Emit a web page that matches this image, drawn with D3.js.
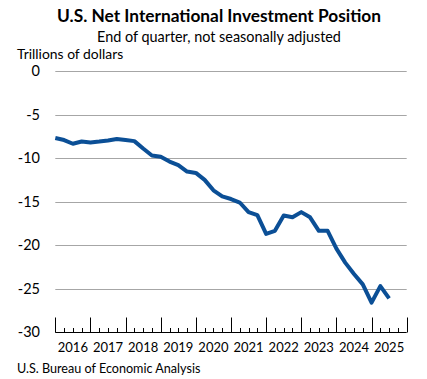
<!DOCTYPE html>
<html><head><meta charset="utf-8">
<script src="https://d3js.org/d3.v7.min.js"></script>
<style>body{margin:0;background:#fff}svg{display:block}</style>
</head><body>
<script>
const quarters = ["2015Q4","2016Q1","2016Q2","2016Q3","2016Q4","2017Q1","2017Q2","2017Q3","2017Q4","2018Q1","2018Q2","2018Q3","2018Q4","2019Q1","2019Q2","2019Q3","2019Q4","2020Q1","2020Q2","2020Q3","2020Q4","2021Q1","2021Q2","2021Q3","2021Q4","2022Q1","2022Q2","2022Q3","2022Q4","2023Q1","2023Q2","2023Q3","2023Q4","2024Q1","2024Q2","2024Q3","2024Q4","2025Q1","2025Q2"];
const niip = [-7.7,-7.93,-8.35,-8.1,-8.2,-8.1,-7.97,-7.8,-7.93,-8.05,-8.9,-9.7,-9.85,-10.4,-10.8,-11.55,-11.7,-12.5,-13.7,-14.4,-14.7,-15.1,-16.2,-16.55,-18.7,-18.35,-16.6,-16.8,-16.2,-16.8,-18.35,-18.35,-20.4,-22.0,-23.3,-24.5,-26.6,-24.7,-26.1];
const yearLabels = ["2016","2017","2018","2019","2020","2021","2022","2023","2024","2025"];
const yTicks = [0,-5,-10,-15,-20,-25,-30];

const W = 427, H = 379;
const svg = d3.select("body").append("svg").attr("width", W).attr("height", H);
const font = "Lato, 'Liberation Sans', Arial, sans-serif";

const x = d3.scaleLinear().domain([0, yearLabels.length * 4]).range([55.3, 406.7]);
const y = d3.scaleLinear().domain([-30, 0]).range([332.3, 71]);

// titles
svg.append("text").attr("x", 219).attr("y", 22).attr("text-anchor", "middle")
  .attr("font-family", font).attr("font-weight", "bold").attr("font-size", 17.3).attr("fill", "#000")
  .text("U.S. Net International Investment Position");
svg.append("text").attr("x", 219).attr("y", 42).attr("text-anchor", "middle")
  .attr("font-family", font).attr("font-size", 14.4).attr("fill", "#000")
  .text("End of quarter, not seasonally adjusted");
svg.append("text").attr("x", 17).attr("y", 59)
  .attr("font-family", font).attr("font-size", 13.9).attr("fill", "#000")
  .text("Trillions of dollars");

// gridlines
svg.append("g").selectAll("line").data(yTicks.filter(d => d !== -30)).join("line")
  .attr("x1", x(0)).attr("x2", x(40)).attr("y1", d => Math.round(y(d)) + 0.5).attr("y2", d => Math.round(y(d)) + 0.5)
  .attr("stroke", "#a6a6a6").attr("stroke-width", 1);

// y axis labels
svg.append("g").selectAll("text").data(yTicks).join("text")
  .attr("x", 40).attr("y", d => y(d)).attr("dy", "0.35em").attr("text-anchor", "end")
  .attr("font-family", font).attr("font-size", 14.5).attr("fill", "#000")
  .text(d => d);

// x axis
const axisY = Math.round(y(-30)) + 0.5;
svg.append("line").attr("x1", x(0)).attr("x2", x(40)).attr("y1", axisY).attr("y2", axisY)
  .attr("stroke", "#000").attr("stroke-width", 1);
const ticks = d3.range(0, 41);
svg.append("g").selectAll("line").data(ticks).join("line")
  .attr("x1", d => Math.round(x(d)) + 0.5).attr("x2", d => Math.round(x(d)) + 0.5)
  .attr("y1", axisY).attr("y2", d => d % 4 === 0 ? axisY - 15 : axisY - 4.5)
  .attr("stroke", "#000").attr("stroke-width", 1);
svg.append("g").selectAll("text").data(yearLabels).join("text")
  .attr("x", (d, i) => x(i * 4 + 2)).attr("y", 352).attr("text-anchor", "middle")
  .attr("font-family", font).attr("font-size", 13).attr("fill", "#000")
  .text(d => d);

// line
const line = d3.line().x((d, i) => x(i)).y(d => y(d));
svg.append("path").datum(niip).attr("d", line).attr("fill", "none")
  .attr("stroke", "#0b4f96").attr("stroke-width", 4).attr("stroke-linejoin", "round");

// footer
svg.append("text").attr("x", 17).attr("y", 373)
  .attr("font-family", font).attr("font-size", 12.6).attr("fill", "#000")
  .text("U.S. Bureau of Economic Analysis");
</script>
</body></html>
